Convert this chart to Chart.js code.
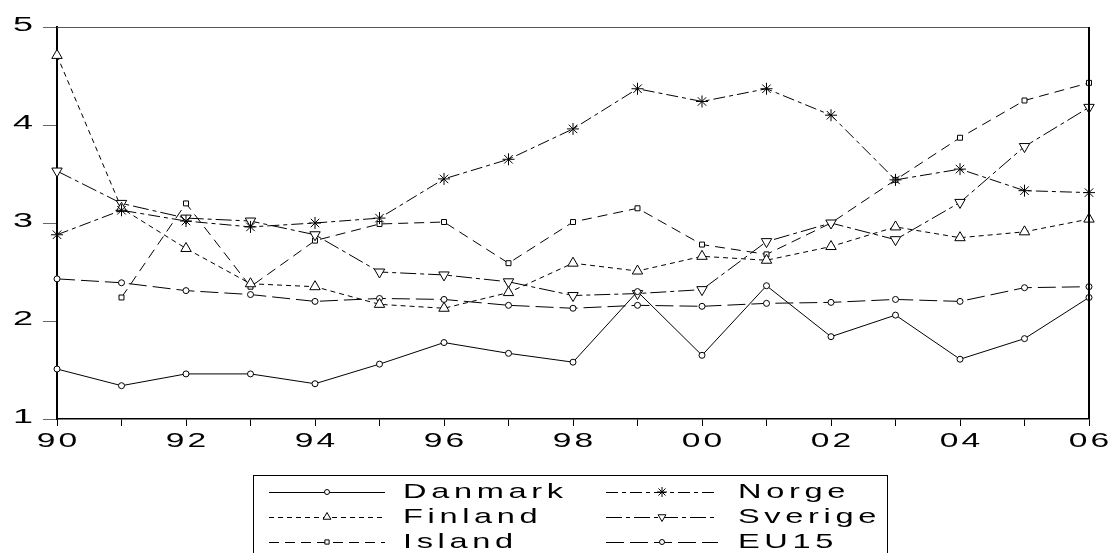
<!DOCTYPE html>
<html>
<head>
<meta charset="utf-8">
<script src="https://cdn.jsdelivr.net/npm/chart.js@4/dist/chart.umd.min.js"></script>
<style>
  html, body { margin: 0; padding: 0; background: #fff; }
  #c { display: block; }
</style>
</head>
<body>
<canvas id="c" width="1113" height="553"></canvas>
<script>
// years on the x axis (labels shown as two digits, every other year)
const years = ["1990", "1991", "1992", "1993", "1994", "1995", "1996", "1997", "1998",
  "1999", "2000", "2001", "2002", "2003", "2004", "2005", "2006"];

const danmark = [1.51, 1.34, 1.46, 1.46, 1.36, 1.56, 1.78, 1.67, 1.58, 2.30, 1.65, 2.36, 1.84, 2.06, 1.61, 1.82, 2.24];
const norge   = [2.88, 3.13, 3.02, 2.96, 3.00, 3.05, 3.45, 3.65, 3.96, 4.37, 4.24, 4.37, 4.10, 3.44, 3.55, 3.33, 3.31];
const finland = [4.71, 3.15, 2.74, 2.38, 2.35, 2.17, 2.13, 2.29, 2.59, 2.51, 2.66, 2.62, 2.76, 2.96, 2.85, 2.91, 3.04];
const sverige = [3.53, 3.20, 3.05, 3.02, 2.88, 2.50, 2.47, 2.40, 2.26, 2.28, 2.32, 2.81, 3.00, 2.83, 3.21, 3.78, 4.18];
const island  = [null, 2.24, 3.20, 2.35, 2.82, 2.99, 3.01, 2.59, 3.01, 3.15, 2.78, 2.68, 3.00, 3.44, 3.87, 4.25, 4.43];
const eu15    = [2.43, 2.39, 2.31, 2.27, 2.20, 2.23, 2.22, 2.16, 2.13, 2.16, 2.15, 2.18, 2.19, 2.22, 2.20, 2.34, 2.35];

const yTicks = [1, 2, 3, 4, 5];

const FONT = '"Liberation Sans", Arial, sans-serif';

function series(label, data, dash, style, radius, rotation) {
  return {
    label: label,
    data: data,
    borderColor: "#000",
    borderWidth: 1,
    borderDash: dash,
    backgroundColor: "#fff",
    pointStyle: style,
    pointRadius: radius,
    pointRotation: rotation || 0,
    pointBorderColor: "#000",
    pointBackgroundColor: "#fff",
    pointBorderWidth: 1,
    tension: 0,
    spanGaps: false,
    clip: false,
  };
}

// draw text stretched horizontally like the original
function wideText(ctx, text, x, y, align, size, sx, spacing) {
  ctx.save();
  ctx.font = size + "px " + FONT;
  ctx.letterSpacing = spacing + "px";
  const w = ctx.measureText(text).width - spacing;
  let x0 = x;
  if (align === "right") x0 = x - w * sx;
  if (align === "center") x0 = x - (w * sx) / 2;
  ctx.translate(x0, y);
  ctx.scale(sx, 1);
  ctx.textAlign = "left";
  ctx.textBaseline = "middle";
  ctx.fillStyle = "#000";
  ctx.fillText(text, 0, 0);
  ctx.restore();
}

const decorations = {
  id: "decorations",
  afterDraw(chart) {
    const ctx = chart.ctx;
    const area = chart.chartArea;
    const xs = chart.scales.x;
    const ys = chart.scales.y;

    // frame: grey top, black right
    ctx.save();
    ctx.strokeStyle = "#555";
    ctx.lineWidth = 1;
    ctx.beginPath();
    ctx.moveTo(area.left, area.top + 0.5);
    ctx.lineTo(area.right, area.top + 0.5);
    ctx.stroke();
    ctx.strokeStyle = "#000";
    ctx.lineWidth = 2;
    ctx.beginPath();
    ctx.moveTo(area.right, area.top);
    ctx.lineTo(area.right, area.bottom);
    ctx.stroke();
    ctx.restore();

    // tick labels
    yTicks.forEach((v) => {
      wideText(ctx, String(v), 33, ys.getPixelForValue(v) - 2, "right", 20, 1.8, 0);
    });
    years.forEach((yr, i) => {
      if (i % 2 === 0) {
        wideText(ctx, yr.slice(2), xs.getPixelForTick(i), 441, "center", 21, 1.6, 2);
      }
    });

    // legend
    const box = { left: 253, top: 475, right: 887 };
    ctx.save();
    ctx.strokeStyle = "#000";
    ctx.lineWidth = 1;
    ctx.strokeRect(box.left + 0.5, box.top + 0.5, box.right - box.left, 100);
    ctx.restore();

    const rows = [492, 517, 542];
    const cols = [
      { x1: 269, x2: 385, tx: 403 },
      { x1: 606, x2: 718, tx: 738 },
    ];
    const legendRadius = { circle: 2.5, triangle: 4.5, rect: 3, star: 5 };
    chart.data.datasets.forEach((ds, i) => {
      const col = cols[i % 2];
      const y = rows[Math.floor(i / 2)];
      ctx.save();
      ctx.strokeStyle = "#000";
      ctx.lineWidth = 1;
      ctx.setLineDash(ds.borderDash);
      ctx.beginPath();
      ctx.moveTo(col.x1, y + 0.5);
      ctx.lineTo(col.x2, y + 0.5);
      ctx.stroke();
      ctx.setLineDash([]);
      ctx.fillStyle = "#fff";
      Chart.helpers.drawPoint(ctx, {
        pointStyle: ds.pointStyle,
        radius: legendRadius[ds.pointStyle],
        rotation: ds.pointRotation,
        borderWidth: 1,
      }, (col.x1 + col.x2) / 2, y);
      ctx.restore();
      wideText(ctx, ds.label, col.tx, y, "left", 21, 1.55, 3);
    });
  },
};

new Chart(document.getElementById("c"), {
  type: "line",
  data: {
    labels: years,
    datasets: [
      series("Danmark", danmark, [], "circle", 3),
      series("Norge", norge, [12, 4, 4, 4], "star", 6),
      series("Finland", finland, [5, 4], "triangle", 6),
      series("Sverige", sverige, [16, 4, 4, 4], "triangle", 6, 180),
      series("Island", island, [10, 6], "rect", 3.5),
      series("EU15", eu15, [18, 6], "circle", 3),
    ],
  },
  options: {
    responsive: false,
    animation: false,
    events: [],
    layout: { padding: { top: 27, right: 24, left: 0, bottom: 0 } },
    plugins: {
      legend: { display: false },
      tooltip: { enabled: false },
    },
    scales: {
      x: {
        type: "category",
        offset: false,
        afterFit: (s) => { s.height = 134; },
        ticks: { display: false },
        grid: {
          drawOnChartArea: false,
          drawTicks: true,
          tickLength: 7,
          color: "#000",
        },
        border: { display: true, color: "#000", width: 1.5 },
      },
      y: {
        min: 1,
        max: 5,
        afterFit: (s) => { s.width = 57; },
        afterBuildTicks: (s) => { s.ticks = yTicks.map((v) => ({ value: v })); },
        ticks: { display: false },
        grid: {
          drawOnChartArea: false,
          drawTicks: true,
          tickLength: 14,
          color: "#666",
        },
        border: { display: true, color: "#000", width: 2 },
      },
    },
  },
  plugins: [decorations],
});
</script>
</body>
</html>
